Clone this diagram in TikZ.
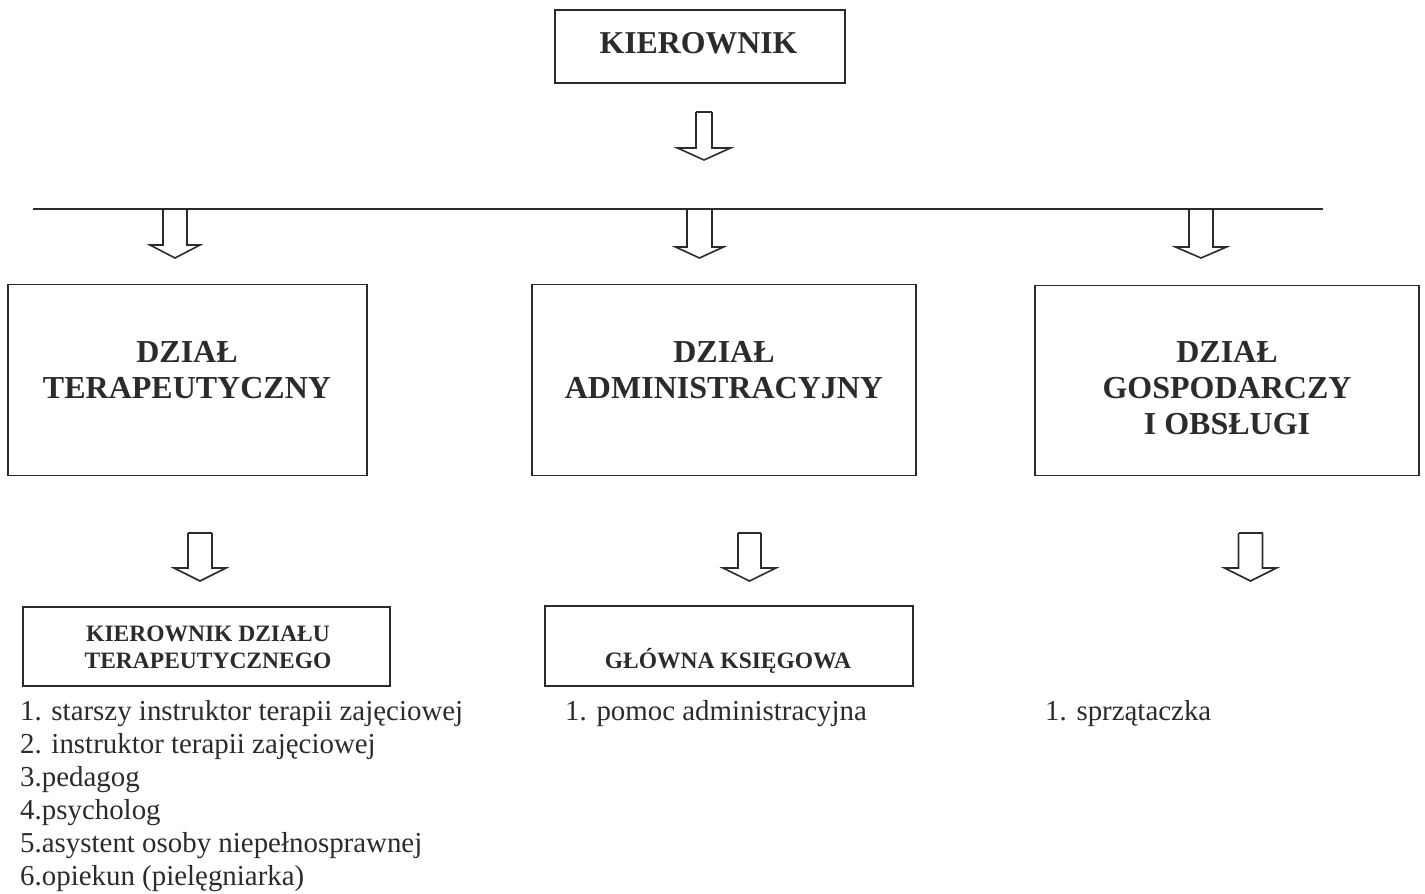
\documentclass[tikz,border=0pt]{standalone}
\usepackage{fontspec}
\setmainfont{Liberation Serif}
\definecolor{ink}{HTML}{2B2B2B}
\newcommand\blockarrow[7]{% name, cx, top, base, tip, half shaft, half head
  \coordinate (#1) at (#2,#5);
  \draw[arr] (#2-#6,#3) -- (#2-#6,#4) -- (#2-#7,#4) -- (#1) -- (#2+#7,#4) -- (#2+#6,#4) -- (#2+#6,#3);}
\begin{document}
\begin{tikzpicture}[x=1pt,y=-1pt,
  frame/.style={draw=ink, line width=1.7pt, inner sep=0pt},
  arr/.style={draw=ink, line width=1.6pt, line join=miter},
  big/.style={text=ink, inner sep=0pt, align=center, font=\bfseries\fontsize{32}{36}\selectfont},
  mid/.style={text=ink, inner sep=0pt, align=center, font=\bfseries\fontsize{23.5}{27}\selectfont},
  lst/.style={text=ink, inner sep=0pt, align=left, font=\fontsize{28.9}{33}\selectfont}]
\useasboundingbox (0,0) rectangle (1425,894);

% top box
\node[frame, minimum width=290pt, minimum height=73pt] (kier) at (700,46.5) {};
\node[big, font=\bfseries\fontsize{31.8}{36}\selectfont, anchor=base] (kiert) at (698.5,53) {KIEROWNIK};

% arrow from top box, with its top closed
\draw[arr] (696,112) -- (712,112);
\blockarrow{a0}{704}{112}{148}{160}{8}{26.5}

% horizontal line
\coordinate (hl) at (33,209);
\coordinate (hr) at (1323,209);
\draw[draw=ink, line width=1.6pt] (hl) -- (hr);

\blockarrow{a1}{175}{209}{245}{258}{12}{25}
\blockarrow{a2}{699.5}{209}{247}{258}{12.5}{24}
\blockarrow{a3}{1201}{209}{247}{258}{12}{25.5}

% department boxes
\node[frame, minimum width=359pt, minimum height=191pt] (d1) at (187.5,380) {};
\node[frame, minimum width=384pt, minimum height=191pt] (d2) at (724,380) {};
\node[frame, minimum width=384pt, minimum height=190pt] (d3) at (1227,380.5) {};
\node[big, anchor=base] (d1t) at (187,398) {DZIAŁ\\TERAPEUTYCZNY};
\node[big, anchor=base] (d2t) at (724,398) {DZIAŁ\\ADMINISTRACYJNY};
\node[big, anchor=base] (d3t) at (1227,434) {DZIAŁ\\GOSPODARCZY\\I OBSŁUGI};

% lower arrows
\draw[arr] (188,533) -- (212,533);
\blockarrow{b1}{200}{533}{568}{581}{12}{26}
\draw[arr] (738,533) -- (761,533);
\blockarrow{b2}{749.5}{533}{568}{581}{11.5}{26.5}
\draw[arr] (1238.5,533) -- (1262.5,533);
\blockarrow{b3}{1250.5}{533}{568}{581}{12}{26}

% sub boxes
\node[frame, minimum width=367pt, minimum height=79pt] (k1) at (206.5,646.5) {};
\node[frame, minimum width=368pt, minimum height=80pt] (k2) at (729,646) {};
\node[mid, anchor=base] (k1t) at (208,668) {KIEROWNIK DZIAŁU\\TERAPEUTYCZNEGO};
\node[mid, anchor=base] (k2t) at (728,668) {GŁÓWNA KSIĘGOWA};

% lists
\node[lst, anchor=base west] (l1) at (20,885) {1. starszy instruktor terapii zajęciowej\\2. instruktor terapii zajęciowej\\3.pedagog\\4.psycholog\\5.asystent osoby niepełnosprawnej\\6.opiekun (pielęgniarka)};
\node[lst, anchor=base west] (l2) at (565,720) {1. pomoc administracyjna};
\node[lst, anchor=base west] (l3) at (1045,720) {1. sprzątaczka};
\end{tikzpicture}
\end{document}
